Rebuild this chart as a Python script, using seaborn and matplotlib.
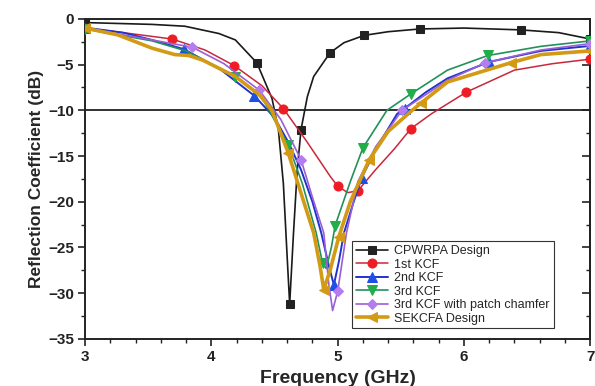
import matplotlib
matplotlib.use("Agg")
import matplotlib.pyplot as plt
from matplotlib.ticker import MultipleLocator, NullFormatter
import seaborn as sns
import pandas as pd

# ---------------- data ----------------
cpw_f = [3.0, 3.53, 3.79, 4.06, 4.19, 4.36, 4.48, 4.53, 4.57, 4.60, 4.62, 4.65, 4.68, 4.71,
         4.76, 4.81, 4.94, 5.05, 5.21, 5.40, 5.65, 6.00, 6.45, 6.75, 7.0]
cpw_db = [-0.4, -0.6, -0.8, -1.6, -2.3, -4.8, -8.7, -12.0, -18.0, -26.0, -31.2, -23.5, -16.5, -12.1,
          -8.5, -6.3, -3.7, -2.6, -1.8, -1.4, -1.1, -1.0, -1.2, -1.5, -2.2]
cpw_mk = [0, 5, 10, 13, 16, 18, 20, 22, 24]

k1_f = [3.0, 3.3, 3.69, 3.95, 4.18, 4.4, 4.57, 4.75, 4.94, 5.0, 5.08, 5.16, 5.3, 5.45,
        5.58, 5.74, 6.02, 6.4, 6.7, 7.0]
k1_db = [-1.0, -1.5, -2.2, -3.4, -5.1, -7.3, -9.8, -13.3, -17.2, -18.3, -19.0, -18.8, -16.5, -14.2,
         -12.0, -10.4, -8.0, -5.6, -4.9, -4.4]
k1_mk = [2, 4, 6, 9, 11, 14, 16, 19]

k2_f = [3.0, 3.3, 3.53, 3.78, 4.06, 4.34, 4.5, 4.61, 4.71, 4.8, 4.87, 4.93, 4.97, 5.01,
        5.05, 5.12, 5.19, 5.3, 5.47, 5.53, 5.7, 5.87, 6.2, 6.61, 7.0]
k2_db = [-0.95, -1.5, -2.3, -3.3, -5.4, -8.4, -10.8, -13.5, -16.5, -20.0, -23.4, -27.0, -29.1, -26.5,
         -23.4, -20.3, -17.4, -14.3, -10.4, -9.8, -8.0, -6.5, -4.7, -3.5, -2.95]
k2_mk = [0, 3, 5, 12, 16, 19, 22, 24]

k3_f = [3.0, 3.53, 3.8, 4.19, 4.4, 4.61, 4.72, 4.83, 4.88, 4.91, 4.95, 4.98, 5.1, 5.2,
        5.39, 5.58, 5.87, 6.19, 6.61, 7.0]
k3_db = [-1.1, -2.4, -3.5, -6.3, -8.6, -13.8, -18.0, -23.4, -26.7, -27.3, -25.0, -22.6, -17.8, -14.1,
         -10.0, -8.2, -5.6, -4.0, -3.0, -2.4]
k3_mk = [0, 3, 5, 8, 11, 13, 15, 17, 19]

ch_f = [3.0, 3.53, 3.85, 4.1, 4.38, 4.55, 4.71, 4.8, 4.89, 4.93, 4.96, 5.0, 5.07, 5.16,
        5.3, 5.51, 5.87, 6.17, 6.61, 7.0]
ch_db = [-1.0, -2.3, -3.1, -4.9, -7.8, -11.0, -15.4, -19.5, -23.4, -29.0, -31.9, -29.8, -23.4, -17.8,
         -14.0, -10.0, -6.7, -4.8, -3.4, -2.7]
ch_mk = [2, 4, 6, 11, 15, 17, 19]

se_f = [3.0, 3.26, 3.53, 3.71, 3.82, 3.93, 4.19, 4.38, 4.48, 4.61, 4.72, 4.81, 4.86, 4.89,
        4.94, 5.01, 5.1, 5.25, 5.4, 5.59, 5.66, 5.87, 6.37, 6.61, 7.0]
se_db = [-1.0, -1.75, -3.2, -3.9, -4.0, -4.5, -6.3, -8.3, -10.0, -14.7, -19.5, -23.4, -27.0, -29.6,
         -27.5, -23.8, -20.0, -15.4, -12.3, -10.0, -9.2, -6.9, -4.8, -3.9, -3.5]
se_mk = [0, 9, 13, 15, 17, 20, 22, 24]

labels = ["CPWRPA Design", "1st KCF", "2nd KCF", "3rd KCF",
          "3rd KCF with patch chamfer", "SEKCFA Design"]
x_ticks = [3, 4, 5, 6, 7]
y_ticks = [0, -5, -10, -15, -20, -25, -30, -35]

# ---------------- style ----------------
sns.set_theme(style="white")
plt.rcParams["font.family"] = ["Liberation Sans", "DejaVu Sans"]

fig = plt.figure(figsize=(5.95, 3.86), dpi=100)
ax = fig.add_axes([0.143, 0.122, 0.849, 0.829])

series = [
    (cpw_f, cpw_db, cpw_mk, labels[0], "#1a1a1a", "#222222", "s", 1.2, 5.5),
    (k1_f, k1_db, k1_mk, labels[1], "#c8283a", "#ee1c24", "o", 1.1, 6.5),
    (k2_f, k2_db, k2_mk, labels[2], "#2233cc", "#1e50e6", "^", 1.4, 6.5),
    (k3_f, k3_db, k3_mk, labels[3], "#23915a", "#1fae48", "v", 1.2, 6.5),
    (ch_f, ch_db, ch_mk, labels[4], "#9a5fd6", "#b57cf0", "D", 1.2, 5.5),
    (se_f, se_db, se_mk, labels[5], "#d39a16", "#d39a16", "<", 2.6, 6.5),
]

for f, db, mk, lab, lc, mc, m, lw, ms in series:
    df = pd.DataFrame({"f": f, "db": db})
    sns.lineplot(data=df, x="f", y="db", ax=ax, sort=False, estimator=None,
                 color=lc, linewidth=lw, marker=m, markersize=ms, markevery=mk,
                 markerfacecolor=mc, markeredgecolor=mc, label=lab, zorder=3)

ax.axhline(-10, color="#222222", linewidth=1.3, zorder=2)

ax.set_xlim(3, 7)
ax.set_ylim(-35, 0)
ax.set_xticks(x_ticks)
ax.set_yticks(y_ticks)
ax.set_xticklabels([str(v) for v in x_ticks])
ax.set_yticklabels([("\u2212" + str(-v)) if v < 0 else str(v) for v in y_ticks])
ax.xaxis.set_minor_locator(MultipleLocator(0.2))
ax.yaxis.set_minor_locator(MultipleLocator(2.5))

for s in ax.spines.values():
    s.set_visible(True)
    s.set_color("#222222")
    s.set_linewidth(1.4)

ax.tick_params(axis="both", which="major", direction="out", length=5, width=1.2,
               colors="#222222", labelsize=11, pad=3, left=True, bottom=True)
ax.tick_params(axis="both", which="minor", direction="out", length=3, width=1.0,
               colors="#222222", left=True, bottom=True)
for t in ax.get_xticklabels() + ax.get_yticklabels():
    t.set_fontweight("bold")
ax.grid(False)

# inward ticks on the right edge
sec = ax.secondary_yaxis("right")
sec.set_yticks(y_ticks)
sec.yaxis.set_minor_locator(MultipleLocator(2.5))
sec.yaxis.set_major_formatter(NullFormatter())
sec.tick_params(which="major", direction="in", length=6, width=1.2, colors="#222222")
sec.tick_params(which="minor", direction="in", length=3, width=1.0, colors="#222222")
sec.spines["right"].set_linewidth(1.4)
sec.spines["right"].set_color("#222222")

ax.set_xlabel("Frequency (GHz)", fontsize=14, fontweight="bold", labelpad=4)
ax.set_ylabel("Reflection Coefficient (dB)", fontsize=12.5, fontweight="bold", labelpad=3)

leg = ax.legend(loc="lower left", bbox_to_anchor=(0.528, 0.033), fontsize=9,
                frameon=True, fancybox=False, edgecolor="#333333", framealpha=1,
                handlelength=2.6, labelspacing=0.12, borderpad=0.3, handletextpad=0.5,
                borderaxespad=0)
leg.get_frame().set_linewidth(0.8)
leg.set_zorder(5)

fig.savefig("out.png", dpi=100)
